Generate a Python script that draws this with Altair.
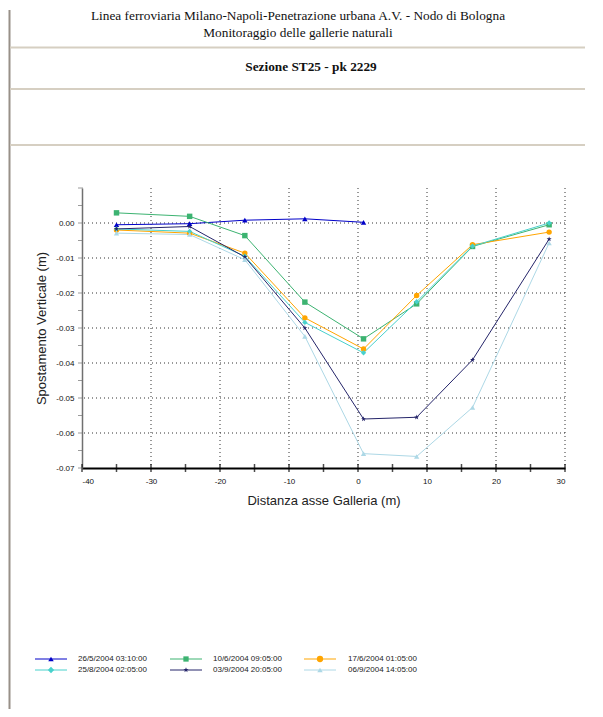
import altair as alt
import pandas as pd

# ---------------- data ----------------
series_names = ["26/5/2004 03:10:00", "10/6/2004 09:05:00", "17/6/2004 01:05:00",
                "25/8/2004 02:05:00", "03/9/2004 20:05:00", "06/9/2004 14:05:00"]
series_colors = ["#0000C8", "#3CB371", "#FFA500", "#48D1CC", "#25256A", "#ADD8E6"]
distances = [-35.0, -24.4, -16.4, -7.7, 0.8, 8.5, 16.6, 27.7]
s1 = [-0.0005, -0.0002, 0.0008, 0.0012, 0.0002]
s2 = [0.0029, 0.0019, -0.0036, -0.0226, -0.0331, -0.0231, -0.0067, -0.0005]
s3 = [-0.0020, -0.0029, -0.0086, -0.0271, -0.0360, -0.0207, -0.0062, -0.0026]
s4 = [-0.0017, -0.0024, -0.0095, -0.0284, -0.0371, -0.0225, -0.0066, 0.0000]
s5 = [-0.0017, -0.0010, -0.0097, -0.0300, -0.0560, -0.0555, -0.0391, -0.0046]
s6 = [-0.0029, -0.0033, -0.0105, -0.0324, -0.0659, -0.0667, -0.0527, -0.0057]

x_labels = [-40, -30, -20, -10, 0, 10, 20, 30]
x_ticks = [-40, -35, -30, -25, -20, -15, -10, -5, 0, 5, 10, 15, 20, 25, 30]
x_grid = [-30, -20, -10, 0, 10, 20, 30]
y_labels = [-0.07, -0.06, -0.05, -0.04, -0.03, -0.02, -0.01, 0.00]
y_ticks = [-0.07, -0.065, -0.06, -0.055, -0.05, -0.045, -0.04, -0.035, -0.03,
           -0.025, -0.02, -0.015, -0.01, -0.005, 0.0, 0.005, 0.01]
y_grid = [-0.06, -0.05, -0.04, -0.03, -0.02, -0.01, 0.00]

title1 = "Linea ferroviaria Milano-Napoli-Penetrazione urbana A.V. - Nodo di Bologna"
title2 = "Monitoraggio delle gallerie naturali"
title3 = "Sezione ST25 - pk 2229"

# ---------------- styling ----------------
STAR = ("M0,-1L0.235,-0.324L0.951,-0.309L0.38,0.124L0.588,0.809L0,0.4L-0.588,0.809"
        "L-0.38,0.124L-0.951,-0.309L-0.235,-0.324Z")
shapes = ["triangle-up", "square", "circle", "diamond", STAR, "triangle-up"]
sizes = [30, 28, 40, 40, 30, 30]
SANS = "Liberation Sans"
SERIF = "Liberation Serif"
W, H = 483, 280

all_vals = [s1, s2, s3, s4, s5, s6]
rows = []
for i, (name, vals) in enumerate(zip(series_names, all_vals)):
    for d, v in zip(distances, vals):
        rows.append({"serie": name, "idx": i, "dist": d, "spost": v})
df = pd.DataFrame(rows)
one = pd.DataFrame({"k": [0]})

xs = alt.Scale(domain=[-40, 30], nice=False, zero=False)
ys = alt.Scale(domain=[-0.07, 0.01], nice=False, zero=False)
col = alt.Color("serie:N", scale=alt.Scale(domain=series_names, range=series_colors), legend=None)

x_axis = alt.Axis(values=x_labels, format="d", labelExpr="replace(datum.label, '−', '-')",
                  title="Distanza asse Galleria (m)", grid=False, ticks=False,
                  domainColor="black", domainWidth=2, labelFont=SANS, labelFontSize=8,
                  labelColor="#111", labelPadding=9, titleFont=SANS, titleFontSize=13,
                  titleFontWeight="normal", titleColor="#222", titlePadding=9)
y_axis = alt.Axis(values=y_labels, format=".2f", labelExpr="replace(datum.label, '−', '-')",
                  title="Spostamento Verticale (m)", grid=False, ticks=False,
                  domainColor="#707070", domainWidth=1.5, labelFont=SANS, labelFontSize=8,
                  labelColor="#111", labelPadding=8, titleFont=SANS, titleFontSize=13,
                  titleFontWeight="normal", titleColor="#222", titlePadding=7)

grid_v = alt.Chart(pd.DataFrame({"gx": x_grid})).mark_rule(
    color="#333", strokeDash=[1, 3], strokeWidth=1).encode(
    x=alt.X("gx:Q", scale=xs, axis=x_axis))
grid_h = alt.Chart(pd.DataFrame({"gy": y_grid})).mark_rule(
    color="#333", strokeDash=[1, 3], strokeWidth=1).encode(
    y=alt.Y("gy:Q", scale=ys, axis=y_axis))

lines = alt.Chart(df).mark_line(strokeWidth=1).encode(
    x=alt.X("dist:Q", scale=xs, axis=x_axis),
    y=alt.Y("spost:Q", scale=ys, axis=y_axis),
    color=col, detail="serie:N")

points = alt.Chart(df).mark_point(filled=True, opacity=1).encode(
    x=alt.X("dist:Q", scale=xs, axis=x_axis),
    y=alt.Y("spost:Q", scale=ys, axis=y_axis),
    color=col,
    shape=alt.Shape("serie:N", scale=alt.Scale(domain=series_names, range=shapes), legend=None),
    size=alt.Size("serie:N", scale=alt.Scale(domain=series_names, range=sizes), legend=None),
    order=alt.Order("idx:Q"))

xt = alt.Chart(pd.DataFrame({"tx": x_ticks})).mark_tick(
    color="black", thickness=1.5, size=8, orient="vertical").encode(
    x=alt.X("tx:Q", scale=xs, axis=x_axis), y=alt.value(H))
yt = alt.Chart(pd.DataFrame({"ty": y_ticks})).mark_tick(
    color="#707070", thickness=1, size=5, orient="horizontal").encode(
    y=alt.Y("ty:Q", scale=ys, axis=y_axis), x=alt.value(-1.5))

# header decoration (pixel positions relative to plot origin)
deco = []
deco.append(alt.Chart(one).mark_rule(color="#989088", strokeWidth=2).encode(
    x=alt.value(-72.5), y=alt.value(-178), y2=alt.value(540)))
for ly in [-140.5, -99, -43]:
    deco.append(alt.Chart(one).mark_rule(color="#D6CFC2", strokeWidth=2).encode(
        x=alt.value(-72), x2=alt.value(503), y=alt.value(ly)))
deco.append(alt.Chart(one).mark_text(font=SERIF, fontSize=13.3, align="center",
                                     baseline="alphabetic", color="#111").encode(
    x=alt.value(216), y=alt.value(-168), text=alt.value(title1)))
deco.append(alt.Chart(one).mark_text(font=SERIF, fontSize=13.3, align="center",
                                     baseline="alphabetic", color="#111").encode(
    x=alt.value(216), y=alt.value(-151), text=alt.value(title2)))
deco.append(alt.Chart(one).mark_text(font=SERIF, fontSize=13.3, fontWeight="bold",
                                     align="center", baseline="alphabetic", color="#111").encode(
    x=alt.value(229), y=alt.value(-117), text=alt.value(title3)))

# manual legend
leg = []
col_line = [(-47, -15), (88, 120), (222, 254)]
col_mark = [-31, 104, 238]
col_text = [-4, 131, 266]
row_y = [471, 482]
for i, name in enumerate(series_names):
    c, r = i % 3, i // 3
    y = row_y[r]
    leg.append(alt.Chart(one).mark_rule(color=series_colors[i], strokeWidth=1).encode(
        x=alt.value(col_line[c][0]), x2=alt.value(col_line[c][1]), y=alt.value(y)))
    leg.append(alt.Chart(one).mark_point(filled=True, opacity=1, color=series_colors[i]).encode(
        x=alt.value(col_mark[c]), y=alt.value(y), shape=alt.value(shapes[i]),
        size=alt.value(sizes[i])))
    leg.append(alt.Chart(one).mark_text(font=SANS, fontSize=8, align="left",
                                        baseline="middle", color="#222").encode(
        x=alt.value(col_text[c]), y=alt.value(y), text=alt.value(name)))

chart = alt.layer(grid_v, grid_h, lines, points, xt, yt, *deco, *leg).properties(
    width=W, height=H,
    padding={"left": 74, "top": 180, "right": 30, "bottom": 241},
    autosize=alt.AutoSizeParams(type="none"),
    background="white",
).configure_view(stroke=None)

chart.save("out.html", embed_options={"renderer": "svg", "actions": False})
